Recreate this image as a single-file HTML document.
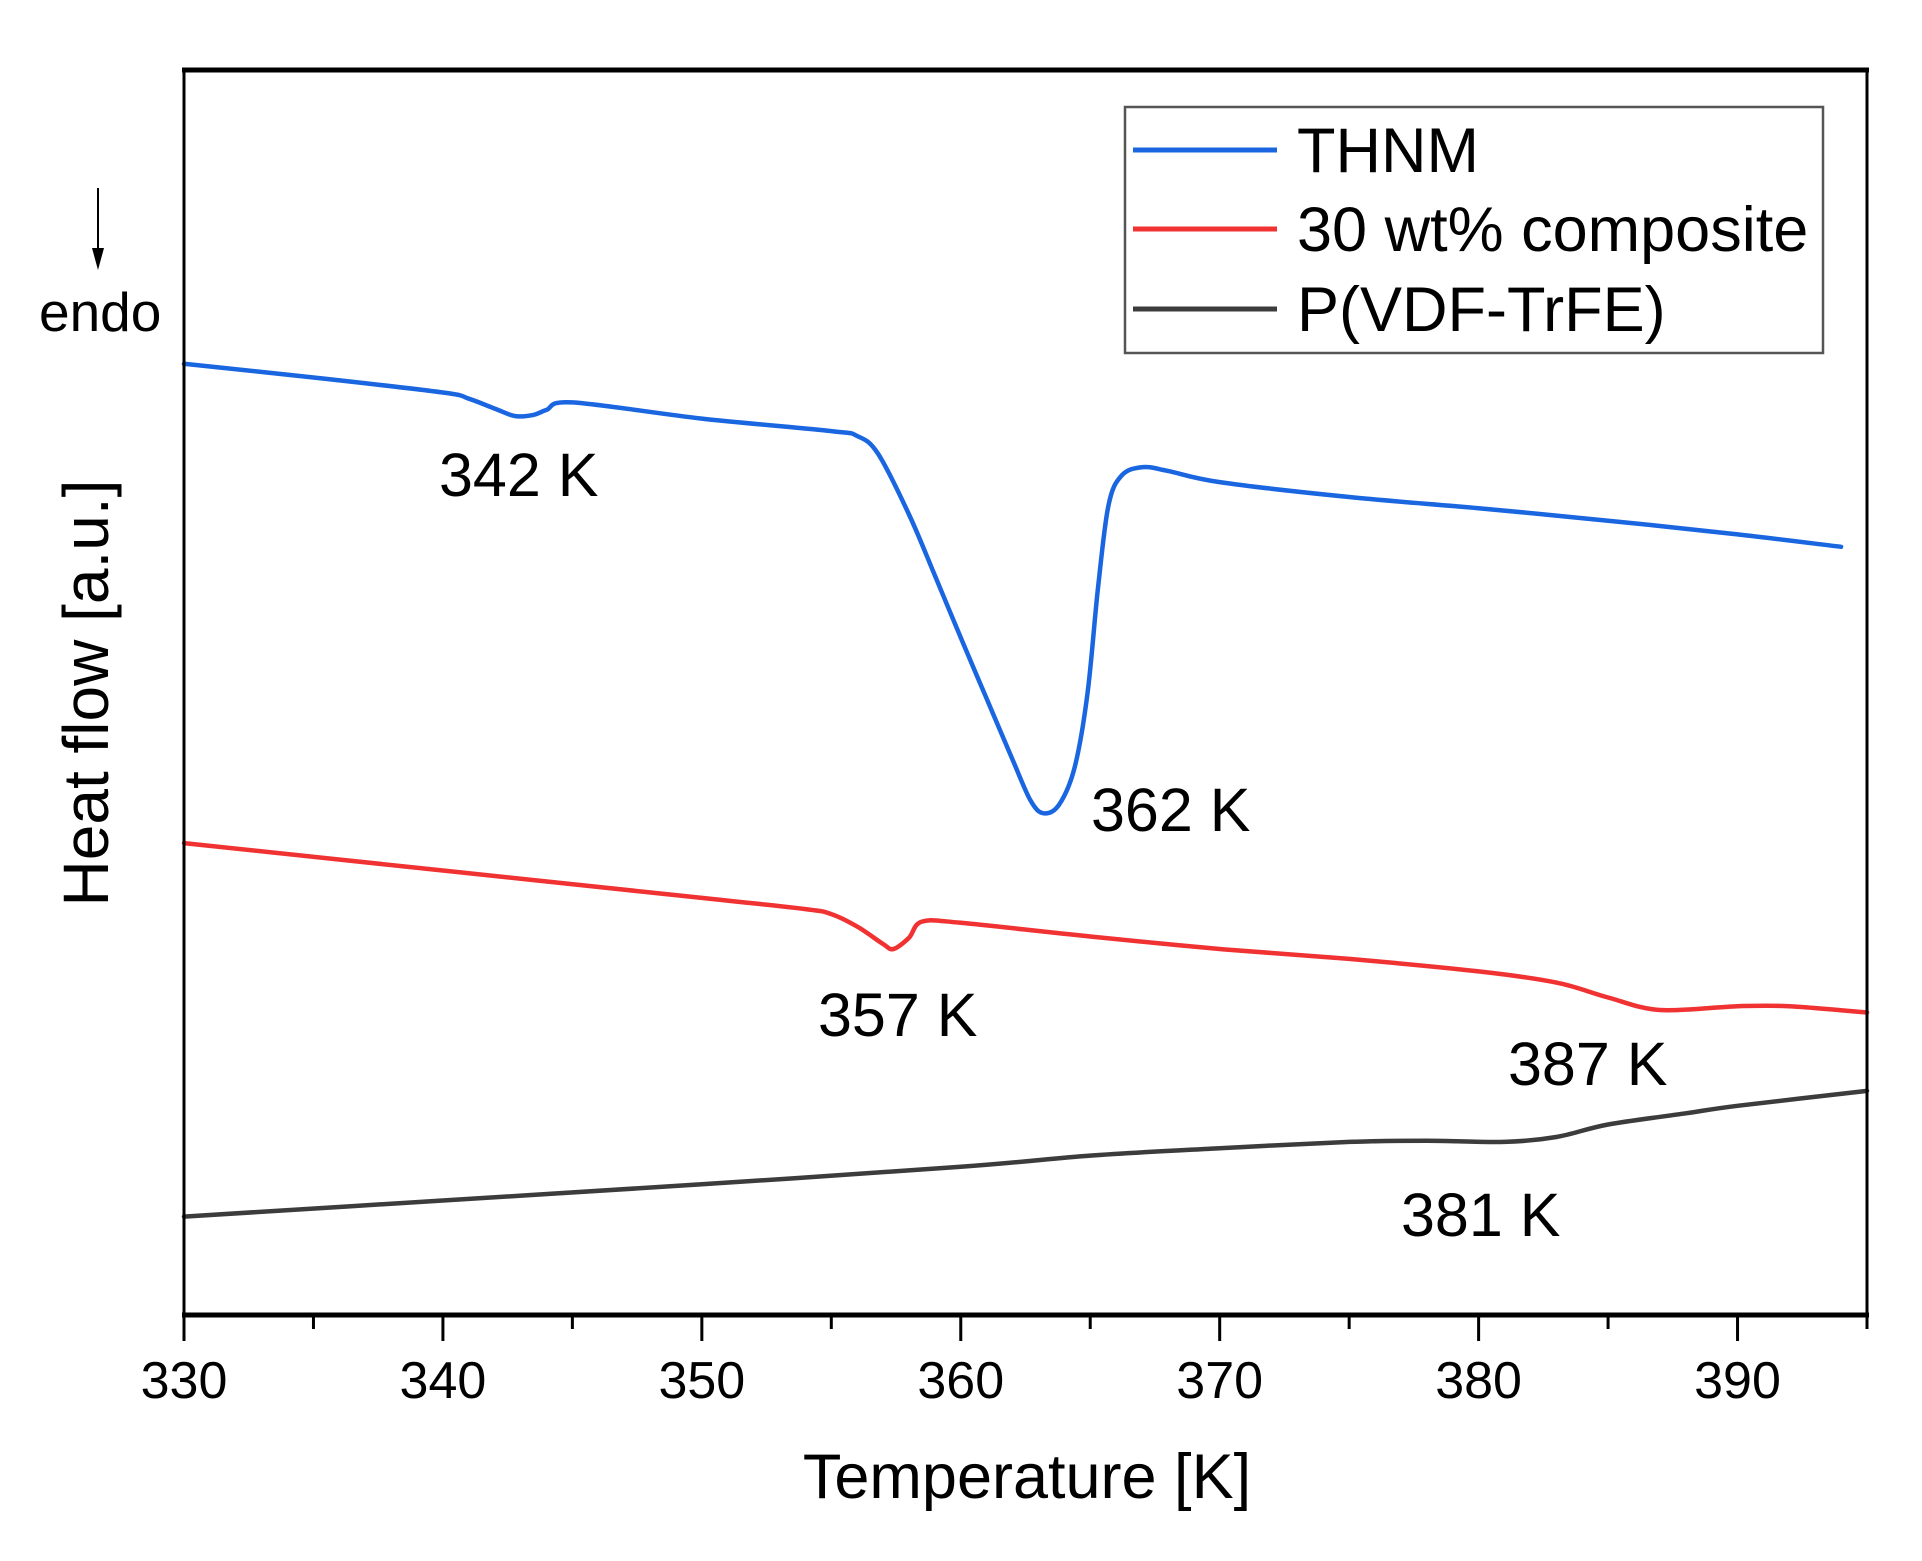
<!DOCTYPE html>
<html><head><meta charset="utf-8"><style>
html,body{margin:0;padding:0;background:#fff;}
svg{display:block;font-family:"Liberation Sans",sans-serif;}
</style></head><body>
<svg id="chart" width="1922" height="1561" viewBox="0 0 1922 1561">
<g id="plot"></g>
<text x="1027" y="1498" text-anchor="middle" font-size="63" font-family="Liberation Sans">Temperature [K]</text>
<text transform="translate(108,693) rotate(-90)" text-anchor="middle" font-size="64" font-family="Liberation Sans">Heat flow [a.u.]</text>
<text x="39" y="331" font-size="55" font-family="Liberation Sans">endo</text>
<g>
<line x1="98" y1="188" x2="98" y2="255" stroke="#000" stroke-width="2"/>
<polygon points="92,248 104,248 98,270" fill="#000"/>
</g>
<g>
<rect x="1125" y="107" width="698" height="246" fill="#fff" stroke="#555" stroke-width="2.5"/>
<line x1="1133" y1="150" x2="1277" y2="150" stroke="#1a66e0" stroke-width="5"/>
<line x1="1133" y1="229" x2="1277" y2="229" stroke="#f03232" stroke-width="5"/>
<line x1="1133" y1="309" x2="1277" y2="309" stroke="#3c3c3c" stroke-width="5"/>
<text x="1297" y="172" font-size="63" font-family="Liberation Sans">THNM</text>
<text x="1297" y="251" font-size="63" font-family="Liberation Sans">30 wt% composite</text>
<text x="1297" y="331" font-size="63" font-family="Liberation Sans">P(VDF-TrFE)</text>
</g>
</svg>
<script>
const temps = {
 thnm:[330,335,340,341,342,342.8,343.5,344,345,350,355,356,356.8,358,359,360,361,362,362.7,363.2,363.8,364.4,364.9,365.3,365.7,366.2,367,368,370,375,380,385,390,394],
 comp:[330,340,350,354,355,356,357,357.4,358,358.5,360,365,370,375,380,383,385,387,390,392,395],
 pvdf:[330,340,350,360,365,370,375,378,381,383,385,388,390,395]
};
const thnmValues=[76.4,75.3,74.1,73.6,72.8,72.2,72.3,72.7,73.3,72.0,71.0,70.6,69.2,64.3,59.4,54.4,49.5,44.6,41.3,40.3,41.0,44.0,50.0,58.4,65.0,67.4,68.1,67.8,66.9,65.7,64.8,63.8,62.7,61.7];
const compValues=[37.9,35.7,33.5,32.6,32.2,31.2,29.8,29.4,30.3,31.6,31.5,30.4,29.4,28.6,27.6,26.7,25.5,24.5,24.8,24.8,24.3];
const pvdfValues=[7.9,9.2,10.5,11.9,12.8,13.4,13.9,14.0,13.9,14.3,15.3,16.2,16.8,18.0];
const xTicks=[330,340,350,360,370,380,390];
const xMinor=[335,345,355,365,375,385,395];
const annotations=[["342 K",439,496],["362 K",1091,831],["357 K",818,1036],["387 K",1508,1085],["381 K",1401,1236]];

const L=184,R=1867,T=70,B=1315;
const X=t=>L+(t-330)/(395-330)*(R-L);
const Y=v=>B-v/100*(B-T);
const NS="http://www.w3.org/2000/svg";
const g=document.getElementById('plot');
function mk(tag,attrs,parent){const e=document.createElementNS(NS,tag);for(const k in attrs)e.setAttribute(k,attrs[k]);(parent||g).appendChild(e);return e;}

function series(ts,vs,color,name){
 const P=ts.map((t,i)=>[X(t),Y(vs[i])]);
 let d='M'+P[0][0].toFixed(1)+','+P[0][1].toFixed(1);
 for(let i=0;i<P.length-1;i++){
  const p0=P[Math.max(0,i-1)],p1=P[i],p2=P[i+1],p3=P[Math.min(P.length-1,i+2)];
  const c1=[p1[0]+(p2[0]-p0[0])/6,p1[1]+(p2[1]-p0[1])/6];
  const c2=[p2[0]-(p3[0]-p1[0])/6,p2[1]-(p3[1]-p1[1])/6];
  d+=' C'+c1[0].toFixed(1)+','+c1[1].toFixed(1)+' '+c2[0].toFixed(1)+','+c2[1].toFixed(1)+' '+p2[0].toFixed(1)+','+p2[1].toFixed(1);
 }
 const p=mk('path',{d:d,fill:'none',stroke:color,'stroke-width':4.5,'stroke-linejoin':'round','stroke-linecap':'round'});
 
 
}
series(temps.pvdf,pvdfValues,'#3c3c3c','pvdf-trfe-line');
series(temps.comp,compValues,'#f03232','composite-line');
series(temps.thnm,thnmValues,'#1a66e0','thnm-line');

const frame=mk('rect',{x:L,y:T,width:R-L,height:B-T,fill:'none',stroke:'#000','stroke-width':3});


const ba=mk('line',{x1:L-2,y1:B,x2:R+2,y2:B,stroke:'#000','stroke-width':5});


const ta=mk('line',{x1:L-2,y1:T,x2:R+2,y2:T,stroke:'#000','stroke-width':5});



xTicks.forEach(t=>{
 const l=mk('line',{x1:X(t),y1:B,x2:X(t),y2:B+26,stroke:'#000','stroke-width':3});
 
 
 const tx=mk('text',{x:X(t),y:1398,'text-anchor':'middle','font-size':52,fill:'#000'});
 tx.textContent=t;
 
 
});
xMinor.forEach(t=>{
 const l=mk('line',{x1:X(t),y1:B,x2:X(t),y2:B+14,stroke:'#000','stroke-width':3});
 
 
});
annotations.forEach(a=>{
 const tx=mk('text',{x:a[1],y:a[2],'font-size':61,fill:'#000'});
 tx.textContent=a[0];
 
 
});
</script>
</body></html>
